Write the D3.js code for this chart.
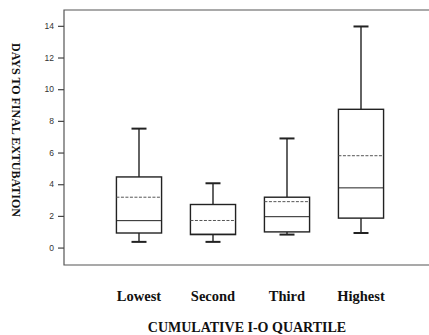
<!DOCTYPE html>
<html>
<head>
<meta charset="utf-8">
<script src="https://cdn.jsdelivr.net/npm/d3@7"></script>
<style>
  body { margin: 0; background: #fff; }
  svg { display: block; }
</style>
</head>
<body>
<div id="chart-container"></div>
<script>
// Quartile groups and box statistics (days)
const categories = ["Lowest", "Second", "Third", "Highest"];
const whiskerLow = [0.36, 0.36, 0.82, 0.92];
const q1 = [0.92, 0.82, 0.99, 1.86];
const median = [1.7, 0.85, 1.95, 3.77];
const mean = [3.18, 1.71, 2.9, 5.8];
const q3 = [4.46, 2.72, 3.18, 8.73];
const whiskerHigh = [7.51, 4.06, 6.89, 13.96];
const yTicks = [0, 2, 4, 6, 8, 10, 12, 14];

const data = categories.map((c, i) => ({
    cat: c, lo: whiskerLow[i], q1: q1[i], med: median[i],
    mean: mean[i], q3: q3[i], hi: whiskerHigh[i]
}));

const width = 429, height = 335;
const plot = { left: 64, right: 429, top: 10, bottom: 265 };

const svg = d3.select("#chart-container").append("svg")
    .attr("width", width)
    .attr("height", height);

const y = d3.scaleLinear()
    .domain([-1.1, 15])
    .range([plot.bottom, plot.top]);

const x = d3.scaleBand()
    .domain(categories)
    .range([102, 398])
    .paddingInner(0.39)
    .paddingOuter(0.195);

// Frame: left, top, bottom
svg.append("path")
    .attr("d", `M${plot.right},${plot.top}H${plot.left}V${plot.bottom}H${plot.right}`)
    .attr("fill", "none")
    .attr("stroke", "#555")
    .attr("stroke-width", 1.2);

// Y axis ticks
const yAxis = svg.append("g")
    .attr("transform", `translate(${plot.left},0)`)
    .call(d3.axisLeft(y).tickValues(yTicks).tickSize(6).tickPadding(4));
yAxis.select(".domain").remove();
yAxis.selectAll("line").attr("stroke", "#444").attr("stroke-width", 1.2);
yAxis.selectAll("text")
    .attr("fill", "#333")
    .style("font-family", "Liberation Sans, Arial, sans-serif")
    .style("font-size", "8.5px");

// Boxes
const cap = 15;
const g = svg.selectAll(".box")
    .data(data)
    .enter().append("g")
    .attr("class", "box");

const cx = d => x(d.cat) + x.bandwidth() / 2;
const stroke = "#222";

// upper whisker
g.append("line")
    .attr("x1", cx).attr("x2", cx)
    .attr("y1", d => y(d.q3)).attr("y2", d => y(d.hi))
    .attr("stroke", stroke).attr("stroke-width", 1.4);
g.append("line")
    .attr("x1", d => cx(d) - cap / 2).attr("x2", d => cx(d) + cap / 2)
    .attr("y1", d => y(d.hi)).attr("y2", d => y(d.hi))
    .attr("stroke", stroke).attr("stroke-width", 2);
// lower whisker
g.append("line")
    .attr("x1", cx).attr("x2", cx)
    .attr("y1", d => y(d.q1)).attr("y2", d => y(d.lo))
    .attr("stroke", stroke).attr("stroke-width", 1.4);
g.append("line")
    .attr("x1", d => cx(d) - cap / 2).attr("x2", d => cx(d) + cap / 2)
    .attr("y1", d => y(d.lo)).attr("y2", d => y(d.lo))
    .attr("stroke", stroke).attr("stroke-width", 2);
// box
g.append("rect")
    .attr("x", d => x(d.cat))
    .attr("y", d => y(d.q3))
    .attr("width", x.bandwidth())
    .attr("height", d => y(d.q1) - y(d.q3))
    .attr("fill", "#fff")
    .attr("stroke", stroke).attr("stroke-width", 1.4);
// median
g.append("line")
    .attr("x1", d => x(d.cat)).attr("x2", d => x(d.cat) + x.bandwidth())
    .attr("y1", d => y(d.med)).attr("y2", d => y(d.med))
    .attr("stroke", stroke).attr("stroke-width", 1);
// mean (dotted)
g.append("line")
    .attr("x1", d => x(d.cat)).attr("x2", d => x(d.cat) + x.bandwidth())
    .attr("y1", d => y(d.mean)).attr("y2", d => y(d.mean))
    .attr("stroke", "#555").attr("stroke-width", 1)
    .attr("stroke-dasharray", "3,1.5");

// Category labels
svg.selectAll(".cat")
    .data(categories)
    .enter().append("text")
    .attr("class", "cat")
    .attr("x", d => x(d) + x.bandwidth() / 2)
    .attr("y", 301)
    .attr("text-anchor", "middle")
    .style("font-family", "Liberation Serif, Times New Roman, serif")
    .style("font-weight", "bold")
    .style("font-size", "14.5px")
    .attr("fill", "#111")
    .text(d => d);

// X title
svg.append("text")
    .attr("x", 247)
    .attr("y", 332)
    .attr("text-anchor", "middle")
    .style("font-family", "Liberation Serif, Times New Roman, serif")
    .style("font-weight", "bold")
    .style("font-size", "14px")
    .attr("fill", "#111")
    .text("CUMULATIVE I-O QUARTILE");

// Y title, reads top to bottom
svg.append("text")
    .attr("transform", "translate(12,130) rotate(90)")
    .attr("text-anchor", "middle")
    .style("font-family", "Liberation Serif, Times New Roman, serif")
    .style("font-weight", "bold")
    .style("font-size", "12px")
    .attr("fill", "#111")
    .text("DAYS TO FINAL EXTUBATION");
</script>
</body>
</html>
